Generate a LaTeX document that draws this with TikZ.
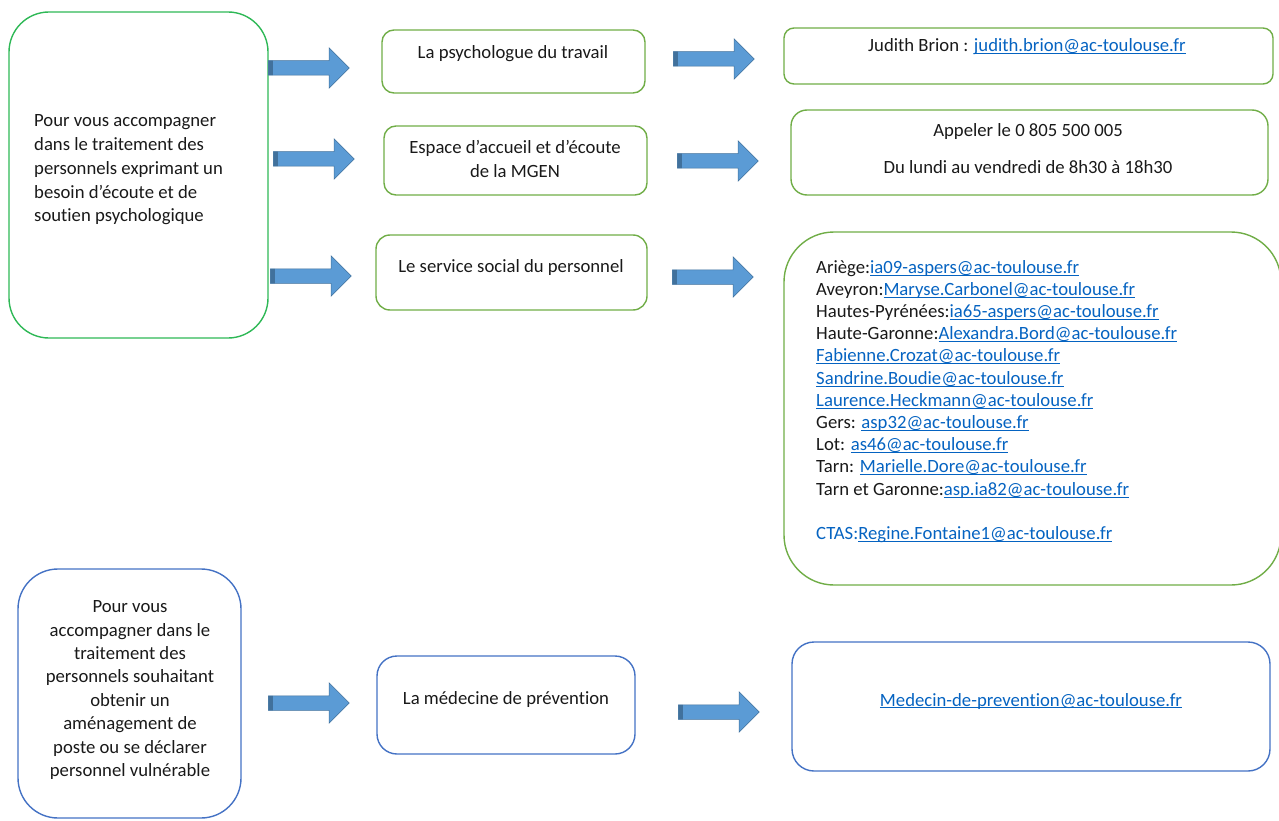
\documentclass[tikz,border=0pt]{standalone}
\usepackage{fontspec}
\setmainfont{Carlito}[Ligatures=NoCommon]
\usetikzlibrary{shapes.arrows}
\definecolor{vertvif}{RGB}{46,184,86}
\definecolor{vertdoux}{RGB}{112,173,71}
\definecolor{bleucadre}{RGB}{68,114,196}
\definecolor{bleufleche}{RGB}{91,155,213}
\definecolor{bleufonce}{RGB}{65,113,156}
\definecolor{bleulien}{RGB}{5,99,193}
\newlength{\largeurlien}
\newcommand{\lien}[1]{\settowidth{\largeurlien}{#1}\textcolor{bleulien}{#1\llap{\rule[-2.4pt]{\largeurlien}{1pt}}}}
\tikzset{
  cadre/.style={draw=#1, line width=1.4pt, inner sep=0pt},
  fleche/.style={single arrow, anchor=tail, fill=bleufleche, draw=bleufonce, line width=0.5pt,
    minimum height=81pt, text height=14pt, text depth=0pt, single arrow head extend=13pt, inner sep=0pt,
    path picture={\fill[bleufonce] (path picture bounding box.south west) rectangle ++(5pt,60pt);}},
  texte/.style={inner sep=0pt, text=black!90, font=\fontsize{18.7}{23.8}\selectfont}
}

\begin{document}
\begin{tikzpicture}[x=1pt,y=-1pt]
		%%%%% cadre %%%%%
		\useasboundingbox (0,0) rectangle (1279,821);
		
		%%%%% soutien psychologique %%%%%
		\node[cadre=vertvif, rounded corners=40pt, minimum width=259pt, minimum height=326pt] (accomp) at (138.5,175) {};
		\node[texte, anchor=west, align=left] (tAccomp) at (34,170) {Pour vous accompagner\\dans le traitement des\\personnels exprimant un\\besoin d’écoute et de\\soutien psychologique};
		
		\node[cadre=vertdoux, rounded corners=12pt, minimum width=263pt, minimum height=63pt] (psy) at (513.5,61.5) {};
		\node[texte, anchor=base] (tPsy) at (513,59) {La psychologue du travail};
		\node[cadre=vertdoux, rounded corners=12pt, minimum width=263pt, minimum height=69pt] (mgen) at (515.5,160.5) {};
		\node[texte, align=center] (tMgen) at (515,159) {Espace d’accueil et d’écoute\\de la MGEN};
		\node[cadre=vertdoux, rounded corners=14pt, minimum width=271pt, minimum height=75pt] (social) at (511.5,272.5) {};
		\node[texte, anchor=base] (tSocial) at (511,272) {Le service social du personnel};
		
		\node[cadre=vertdoux, rounded corners=10pt, minimum width=489pt, minimum height=56pt] (judith) at (1028.5,56) {};
		\node[texte, anchor=base] (tJudith) at (1027,52) {Judith Brion : \lien{judith.brion@ac-toulouse.fr}};
		\node[cadre=vertdoux, rounded corners=16pt, minimum width=477pt, minimum height=85pt] (appel) at (1029.5,152.5) {};
		\node[texte, anchor=base] (tAppel) at (1028,137) {Appeler le 0 805 500 005};
		\node[texte, anchor=base] (tHoraires) at (1028,174) {Du lundi au vendredi de 8h30 à 18h30};
		\node[cadre=vertdoux, rounded corners=50pt, minimum width=497pt, minimum height=353pt] (contacts) at (1032.5,408.5) {};
		\node[texte, anchor=north west, align=left, font=\fontsize{18.7}{22.2}\selectfont] (tContacts) at (816,260) {Ariège:\lien{ia09-aspers@ac-toulouse.fr}\\
			Aveyron:\lien{Maryse.Carbonel@ac-toulouse.fr}\\
			Hautes-Pyrénées:\lien{ia65-aspers@ac-toulouse.fr}\\
			Haute-Garonne:\lien{Alexandra.Bord@ac-toulouse.fr}\\
			\lien{Fabienne.Crozat@ac-toulouse.fr}\\
			\lien{Sandrine.Boudie@ac-toulouse.fr}\\
			\lien{Laurence.Heckmann@ac-toulouse.fr}\\
			Gers: \lien{asp32@ac-toulouse.fr}\\
			Lot: \lien{as46@ac-toulouse.fr}\\
			Tarn: \lien{Marielle.Dore@ac-toulouse.fr}\\
			Tarn et Garonne:\lien{asp.ia82@ac-toulouse.fr}\\[22.2pt]
			\textcolor{bleulien}{CTAS:}\lien{Regine.Fontaine1@ac-toulouse.fr}};
		
		\node[fleche] (fPsy) at (268,68) {};
		\node[fleche] (fMgen) at (273,159) {};
		\node[fleche] (fSocial) at (270,276) {};
		\node[fleche] (fJudith) at (673,59) {};
		\node[fleche] (fAppel) at (677,161) {};
		\node[fleche] (fContacts) at (672,277) {};
		
		%%%%% médecine de prévention %%%%%
		\node[cadre=bleucadre, rounded corners=40pt, minimum width=223pt, minimum height=249pt] (vuln) at (129.5,693.5) {};
		\node[texte, align=center, font=\fontsize{18.7}{23.4}\selectfont] (tVuln) at (130,690) {Pour vous\\accompagner dans le\\traitement des\\personnels souhaitant\\obtenir un\\aménagement de\\poste ou se déclarer\\personnel vulnérable};
		\node[cadre=bleucadre, rounded corners=20pt, minimum width=258pt, minimum height=98pt] (medecine) at (506,705) {};
		\node[texte, anchor=base] (tMedecine) at (506,704) {La médecine de prévention};
		\node[cadre=bleucadre, rounded corners=22pt, minimum width=478pt, minimum height=129pt] (medmail) at (1031,706.5) {};
		\node[texte, anchor=base] (tMedmail) at (1031,706) {\lien{Medecin-de-prevention@ac-toulouse.fr}};
		
		\node[fleche] (fMedecine) at (268,703) {};
		\node[fleche] (fMedmail) at (678,712) {};
	\end{tikzpicture}
\end{document}
